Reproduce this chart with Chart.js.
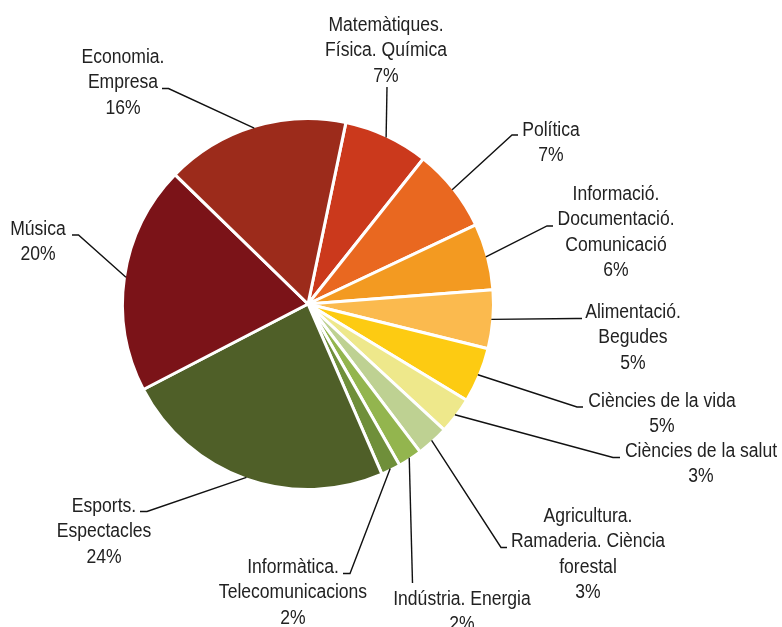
<!DOCTYPE html>
<html>
<head>
<meta charset="utf-8">
<script src="https://cdn.jsdelivr.net/npm/chart.js@4/dist/chart.umd.min.js"></script>
<style>
  body { margin: 0; background: #fff; }
  #wrap { width: 782px; height: 627px; position: relative; }
</style>
</head>
<body>
<div id="wrap"><canvas id="chart-section"></canvas></div>
<script>
// categories (each label split in the lines shown on the chart)
const categories = [
  ['Matemàtiques.', 'Física. Química'],
  ['Política'],
  ['Informació.', 'Documentació.', 'Comunicació'],
  ['Alimentació.', 'Begudes'],
  ['Ciències de la vida'],
  ['Ciències de la salut'],
  ['Agricultura.', 'Ramaderia. Ciència', 'forestal'],
  ['Indústria. Energia'],
  ['Informàtica.', 'Telecomunicacions'],
  ['Esports.', 'Espectacles'],
  ['Música'],
  ['Economia.', 'Empresa']
]
// share of each area, %
const shares = [7.4, 7.3, 5.8, 5.1, 4.8, 3.2, 2.8, 2.1, 1.7, 23.9, 19.9, 16.0]

const colors = ['#CB391C', '#E96820', '#F39A21', '#FBBA4E', '#FDCB12', '#EEE88B',
                '#BED192', '#93B54E', '#6F8F3A', '#4F5F28', '#7B1318', '#9C2B1B']

// label layout: text centre x, first baseline y, elbow of leader line, end of leader line
const labelLayout = [
  { x: 386, y: 31, elbow: [387, 87], end: [387, 87] },
  { x: 551, y: 136, elbow: [512, 135], end: [518, 135] },
  { x: 616, y: 200, elbow: [547, 226], end: [553, 226] },
  { x: 633, y: 318, elbow: [576, 318.5], end: [582, 318.5] },
  { x: 662, y: 407, elbow: [577, 407], end: [583, 407] },
  { x: 701, y: 457, elbow: [613, 457.5], end: [620, 457.5] },
  { x: 588, y: 522, elbow: [501, 547.5], end: [507, 547.5] },
  { x: 462, y: 605, elbow: [412.5, 583], end: [412.5, 583] },
  { x: 293, y: 573, elbow: [350, 573.5], end: [343, 573.5] },
  { x: 104, y: 512, elbow: [147, 511.5], end: [140, 511.5] },
  { x: 38, y: 235, elbow: [78.5, 235], end: [72, 235] },
  { x: 123, y: 63, elbow: [168.5, 88.5], end: [162, 88.5] }
]

const leaderLabels = {
  id: 'leaderLabels',
  afterDatasetsDraw(chart) {
    const ctx = chart.ctx
    const meta = chart.getDatasetMeta(0)
    const total = shares.reduce((a, b) => a + b, 0)
    ctx.save()
    meta.data.forEach((arc, i) => {
      const { x, y, startAngle, endAngle, outerRadius } =
        arc.getProps(['x', 'y', 'startAngle', 'endAngle', 'outerRadius'], true)
      const mid = (startAngle + endAngle) / 2
      const ax = x + Math.cos(mid) * (outerRadius - 1.5)
      const ay = y + Math.sin(mid) * (outerRadius - 1.5)
      const lay = labelLayout[i]

      ctx.strokeStyle = '#111'
      ctx.lineWidth = 1.4
      ctx.beginPath()
      ctx.moveTo(ax, ay)
      ctx.lineTo(lay.elbow[0], lay.elbow[1])
      ctx.lineTo(lay.end[0], lay.end[1])
      ctx.stroke()

      const lines = categories[i].concat([Math.round(shares[i] / total * 100) + '%'])
      ctx.fillStyle = '#222'
      ctx.font = '19.5px "Liberation Sans", Arial, sans-serif'
      ctx.textAlign = 'center'
      ctx.textBaseline = 'alphabetic'
      lines.forEach((t, k) => {
        // condensed look: squeeze the text horizontally
        ctx.save()
        ctx.translate(lay.x, lay.y + k * 25.3)
        ctx.scale(0.9, 1)
        ctx.fillText(t, 0, 0)
        ctx.restore()
      })
    })
    ctx.restore()
  }
}

new Chart(document.getElementById('chart-section'), {
  type: 'pie',
  data: {
    labels: categories.map(c => c.join(' ')),
    datasets: [{
      data: shares,
      backgroundColor: colors,
      borderColor: '#fff',
      borderWidth: 3
    }]
  },
  options: {
    responsive: true,
    maintainAspectRatio: false,
    animation: false,
    rotation: 11.8,
    radius: 185.5,
    layout: { padding: { left: 0, right: 166, top: 0, bottom: 19 } },
    plugins: {
      legend: { display: false },
      tooltip: { enabled: false }
    }
  },
  plugins: [leaderLabels]
})
</script>
</body>
</html>
